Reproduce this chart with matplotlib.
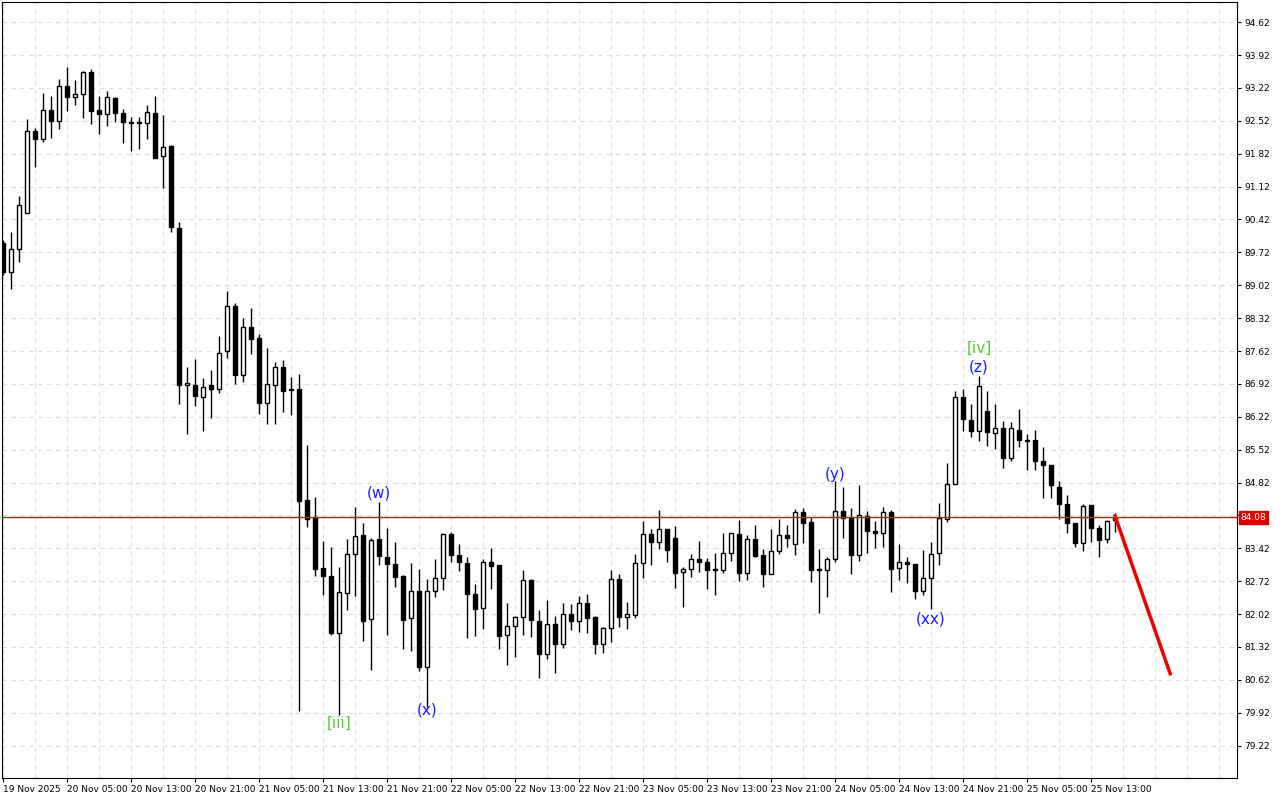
import matplotlib
matplotlib.use("Agg")
import matplotlib.pyplot as plt
import numpy as np

opens = [89.92,89.30,89.79,90.56,92.30,92.13,92.75,92.52,93.26,93.03,93.09,93.56,92.75,92.66,93.00,92.69,92.49,92.49,92.47,92.69,
91.77,91.98,90.24,86.90,86.90,86.64,86.90,86.81,87.62,88.58,87.11,88.13,87.90,86.51,86.90,87.28,86.81,86.81,84.45,84.09,
83.00,82.83,81.62,82.47,83.30,83.71,81.92,83.62,83.24,83.09,82.83,81.94,82.51,80.90,82.51,82.79,83.73,83.28,83.11,82.45,
82.15,83.13,83.07,81.58,81.77,81.96,82.75,81.87,81.17,81.81,81.39,82.02,81.87,82.26,81.96,81.39,81.73,82.77,81.96,82.00,
83.11,83.73,83.56,83.83,83.64,82.92,82.98,83.19,83.13,82.98,82.96,83.32,83.73,82.90,83.62,83.28,82.87,83.36,83.71,83.51,
84.19,83.98,82.98,82.96,83.19,84.22,84.07,83.28,84.11,83.79,83.75,84.19,83.00,83.13,83.09,82.51,82.79,83.32,84.05,84.79,
86.64,86.15,85.92,86.34,85.88,85.98,85.34,85.94,85.73,85.73,85.28,85.19,84.73,84.36,83.96,83.53,84.34,83.85,83.62,84.02]
highs = [89.98,90.15,90.92,92.56,92.37,93.11,93.05,93.41,93.66,93.39,93.58,93.62,93.05,93.15,93.03,92.77,92.60,92.60,92.86,93.05,
92.64,92.00,90.37,87.28,87.45,87.05,87.22,87.94,88.90,88.64,88.32,88.54,87.98,87.68,87.39,87.43,87.07,87.13,85.62,84.51,
83.58,83.45,83.02,83.62,84.30,83.96,83.64,84.41,83.85,83.56,82.85,83.11,82.98,82.77,83.19,83.75,83.77,83.51,83.24,82.66,
83.19,83.43,83.07,82.26,81.98,82.96,82.77,82.11,82.32,81.98,82.26,82.24,82.41,82.45,81.98,81.75,82.96,82.87,82.28,83.30,
84.00,83.83,84.24,83.83,83.90,83.02,83.30,83.58,83.22,83.32,83.75,83.75,84.02,83.71,83.92,83.41,83.83,84.05,83.92,84.26,
84.28,84.09,83.41,83.24,84.85,84.73,84.28,84.77,84.22,84.00,84.30,84.24,83.51,83.24,83.09,83.39,83.56,84.39,85.24,86.77,
86.81,86.49,87.09,86.77,86.49,86.13,86.11,86.39,85.85,85.94,85.58,85.19,84.85,84.56,83.96,84.36,84.34,83.92,84.02,84.17]
lows = [89.24,88.94,89.51,90.56,91.54,92.07,92.15,92.34,92.73,92.86,92.58,92.45,92.24,92.41,92.49,92.05,91.88,91.92,92.13,91.73,
91.09,90.15,86.49,85.85,86.45,85.92,86.20,86.73,87.47,86.92,86.96,87.56,86.28,86.07,86.07,86.32,86.26,79.96,83.88,82.83,
82.43,81.58,79.87,82.11,82.41,81.45,80.83,83.07,81.58,82.60,81.28,81.24,80.81,80.04,82.39,82.53,83.13,82.94,81.51,81.56,
81.70,82.56,81.28,80.94,81.11,81.58,81.53,80.66,81.07,80.77,81.30,81.68,81.64,81.62,81.17,81.19,81.43,81.75,81.70,81.94,
82.79,83.07,83.41,83.13,82.58,82.17,82.81,82.92,82.56,82.43,82.90,83.15,82.73,82.75,83.24,82.60,82.87,83.30,83.45,83.28,
83.53,82.70,82.05,82.39,83.13,83.64,82.87,83.15,83.32,83.43,83.45,82.49,82.75,82.68,82.34,82.43,82.13,83.07,83.98,84.79,
85.92,85.79,85.70,85.60,85.54,85.13,85.28,85.58,85.09,85.09,84.49,84.49,84.05,83.75,83.45,83.36,83.56,83.24,83.53,83.77]
closes = [89.30,89.79,90.73,92.30,92.13,92.75,92.52,93.26,93.03,93.09,93.56,92.73,92.66,93.03,92.69,92.49,92.47,92.47,92.71,91.73,
91.96,90.26,86.90,86.94,86.66,86.85,86.81,87.58,88.58,87.11,88.13,87.88,86.51,86.92,87.28,86.77,86.79,84.43,84.05,82.98,
82.83,81.62,82.49,83.30,83.68,81.87,83.60,83.26,83.09,82.81,81.90,82.51,80.90,82.51,82.79,83.73,83.28,83.13,82.45,82.13,
83.13,83.05,81.56,81.77,81.96,82.75,81.90,81.17,81.81,81.39,82.02,81.87,82.26,81.94,81.39,81.73,82.77,81.96,82.02,83.11,
83.73,83.56,83.83,83.39,82.90,82.98,83.19,83.13,82.96,82.96,83.32,83.75,82.90,83.62,83.26,82.87,83.36,83.71,83.64,84.19,
83.96,82.96,82.96,83.19,84.22,84.07,83.28,84.13,83.79,83.75,84.19,82.98,83.13,83.09,82.51,82.79,83.30,84.07,84.79,86.64,
86.17,85.92,86.88,85.90,85.98,85.34,85.98,85.73,85.70,85.28,85.19,84.77,84.36,83.96,83.53,84.32,83.85,83.60,84.00,84.07]

current_price = 84.08
forecast_x = [139, 145.9]
forecast_y = [84.11, 80.75]
ytick_vals = [79.22, 79.92, 80.62, 81.32, 82.02, 82.72, 83.42, 84.12, 84.82, 85.52, 86.22, 86.92,
              87.62, 88.32, 89.02, 89.72, 90.42, 91.12, 91.82, 92.52, 93.22, 93.92, 94.62]
xtick_labels = ["19 Nov 2025", "20 Nov 05:00", "20 Nov 13:00", "20 Nov 21:00", "21 Nov 05:00", "21 Nov 13:00",
                "21 Nov 21:00", "22 Nov 05:00", "22 Nov 13:00", "22 Nov 21:00", "23 Nov 05:00", "23 Nov 13:00",
                "23 Nov 21:00", "24 Nov 05:00", "24 Nov 13:00", "24 Nov 21:00", "25 Nov 05:00", "25 Nov 13:00"]
wave_labels = ["[iii]", "(w)", "(x)", "(y)", "(xx)", "(z)", "[iv]"]
wave_idx = [42, 47, 53, 104, 116, 122, 122]
wave_price = [79.70, 84.60, 79.98, 85.00, 81.92, 87.28, 87.68]
wave_color = ["#55cc33", "#1a1aff", "#1a1aff", "#1a1aff", "#1a1aff", "#1a1aff", "#55cc33"]

fig = plt.figure(figsize=(12.8, 8.0), dpi=100)
ax = fig.add_axes([2/1280, 22/800, 1235/1280, 776/800])
ax.set_xlim(-0.125, 154.25)
ax.set_ylim(78.53, 95.05)

for i in range(len(opens)):
    o, h, l, c = opens[i], highs[i], lows[i], closes[i]
    ax.plot([i, i], [l, h], color="black", lw=1.0, zorder=2, solid_capstyle="butt")
    bottom = min(o, c)
    height = max(abs(c - o), 0.02)
    face = "white" if c >= o else "black"
    ax.add_patch(plt.Rectangle((i - 0.3, bottom), 0.6, height, facecolor=face,
                               edgecolor="black", lw=1.0, zorder=3))

ax.axhline(current_price, color="#e00000", lw=1.0, zorder=4)
ax.plot(forecast_x, forecast_y, color="#ee0000", lw=2.5, zorder=5)

for t, xi, p, col in zip(wave_labels, wave_idx, wave_price, wave_color):
    ax.text(xi, p, t, color=col, fontsize=11, ha="center", va="center", zorder=6)

ax.set_yticks(ytick_vals)
ax.set_yticklabels(["" if abs(v - current_price) < 0.2 else f"{v:.2f}" for v in ytick_vals], fontsize=6.5)
ax.yaxis.tick_right()
ax.tick_params(axis="y", length=3, pad=2)
ax.set_xticks([8 * k for k in range(len(xtick_labels))])
ax.set_xticklabels(xtick_labels, fontsize=6.5, ha="left")
ax.tick_params(axis="x", length=3, pad=2)

for k in range(0, 156, 4):
    ax.axvline(k, color="#dddddd", lw=0.8, ls=(0, (4, 4)), zorder=0)
for v in ytick_vals:
    ax.axhline(v, color="#dddddd", lw=0.8, ls=(0, (4, 4)), zorder=0)

ax.text(1.003, current_price, f"{current_price:.2f}", transform=ax.get_yaxis_transform(),
        fontsize=6.5, color="white", va="center", ha="left",
        bbox=dict(boxstyle="square,pad=0.2", fc="#e00000", ec="#e00000"), zorder=7, clip_on=False)

for s in ax.spines.values():
    s.set_color("black")
    s.set_linewidth(0.8)

fig.savefig("out.png", dpi=100, facecolor="white")
